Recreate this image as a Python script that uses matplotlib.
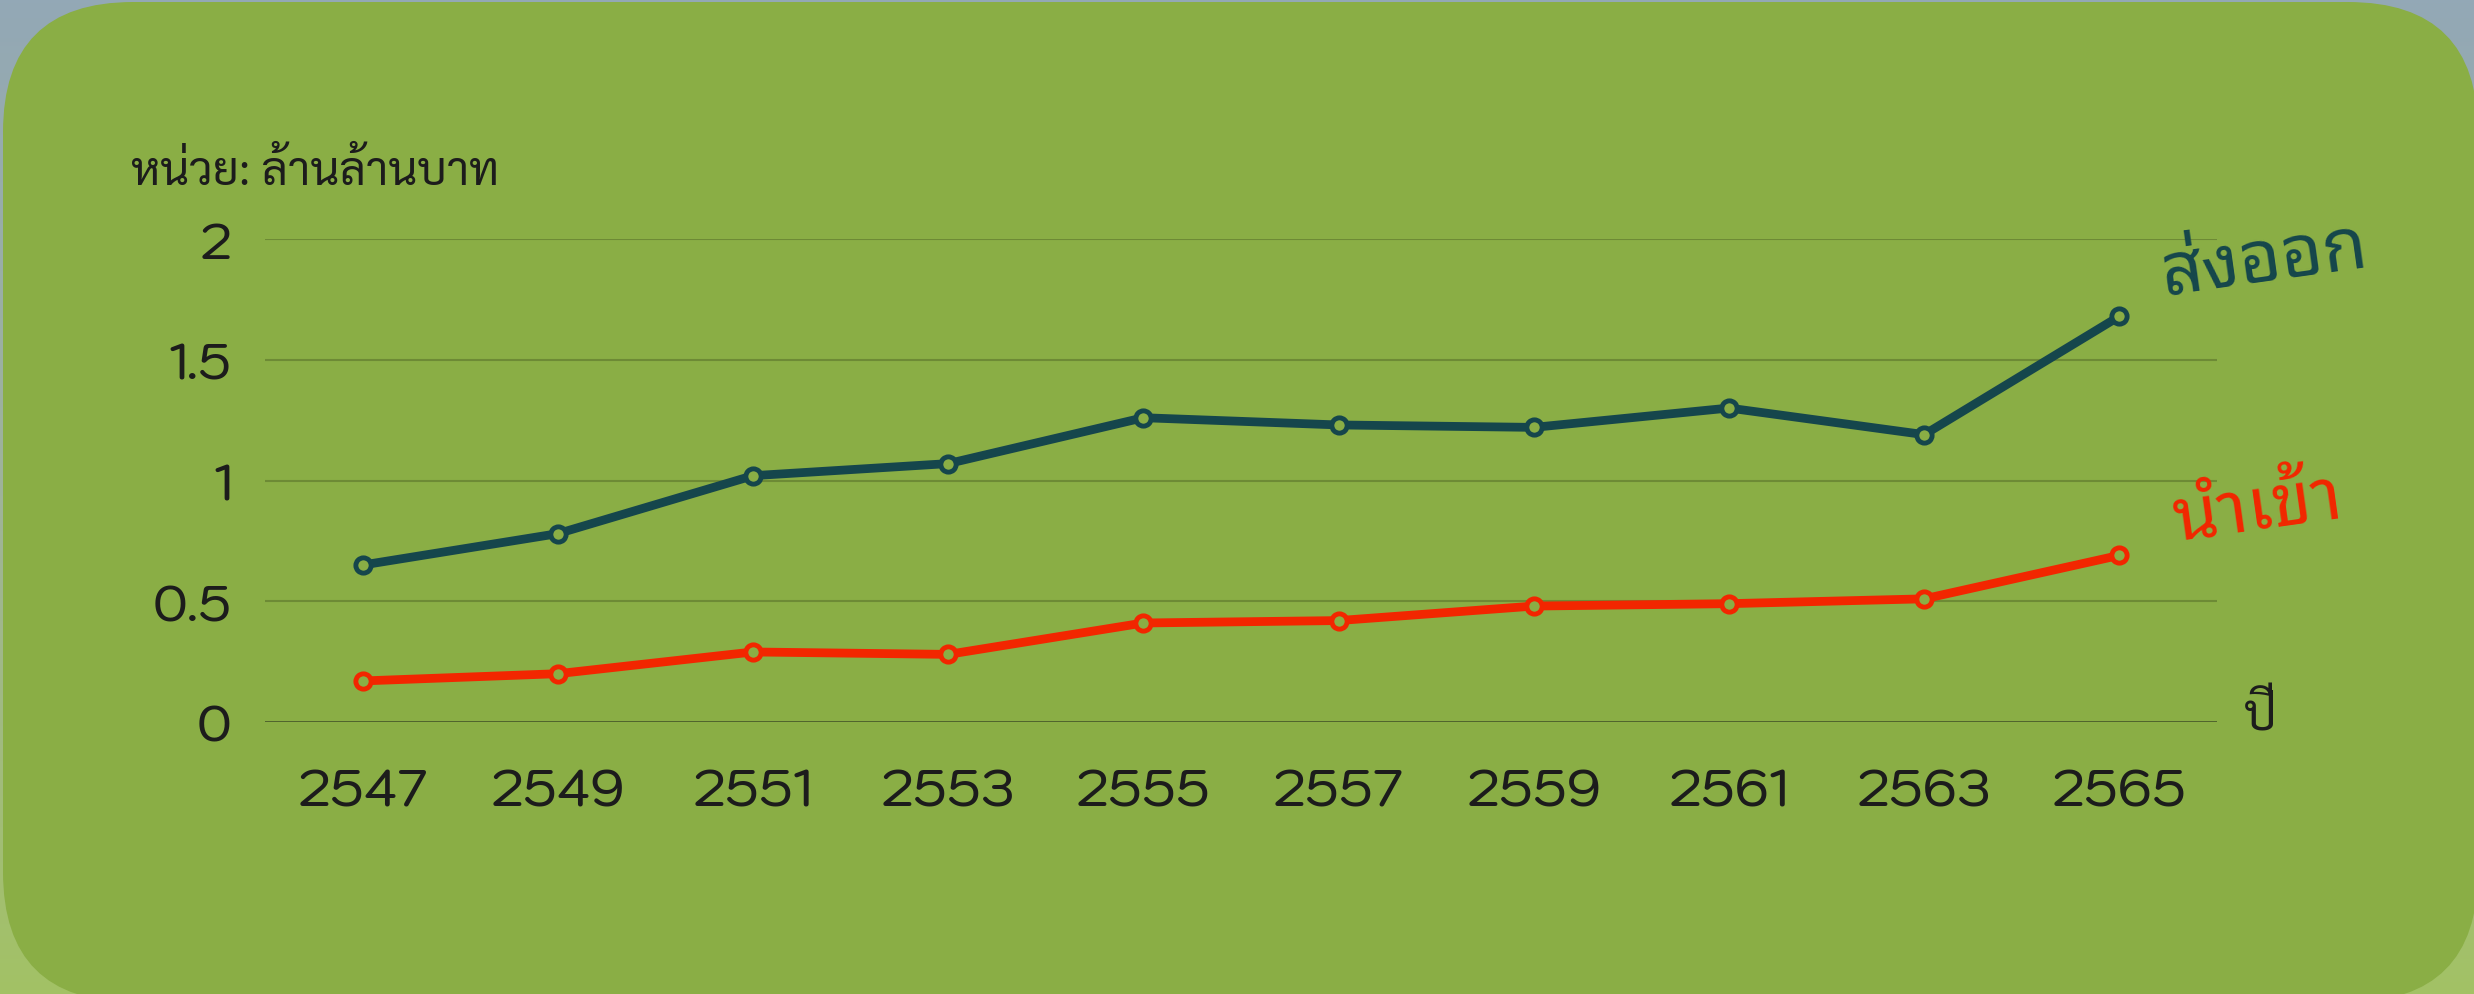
import matplotlib
matplotlib.use("Agg")
import matplotlib.pyplot as plt
import numpy as np
from matplotlib.patches import FancyBboxPatch
from matplotlib.colors import LinearSegmentedColormap

# ---- data ----
years = ["2547", "2549", "2551", "2553", "2555", "2557", "2559", "2561", "2563", "2565"]
exports = [0.65, 0.78, 1.02, 1.07, 1.26, 1.23, 1.22, 1.30, 1.19, 1.68]
imports = [0.17, 0.20, 0.29, 0.28, 0.41, 0.42, 0.48, 0.49, 0.51, 0.69]
yticks = [0, 0.5, 1, 1.5, 2]
ytick_labels = ["0", "0.5", "1", "1.5", "2"]
unit_label = "หน่วย: ล้านล้านบาท"
xlabel = "ปี"
export_label = "ส่งออก"
import_label = "นำเข้า"

W, H = 2474, 995
NUM_FONT = ["Kodchasan", "DejaVu Sans"]
THAI_FONT = ["Sarabun", "DejaVu Sans"]
LBL_FONT = ["Noto Sans Thai Looped", "DejaVu Sans"]
GREEN = "#8aae45"
EXP_C = "#15464c"
IMP_C = "#f22600"

fig = plt.figure(figsize=(W / 100, H / 100), dpi=100)

# background (photo-like gradient + rounded green panel)
bg = fig.add_axes([0, 0, 1, 1])
bg.set_xlim(0, W)
bg.set_ylim(H, 0)
bg.axis("off")
cmap = LinearSegmentedColormap.from_list("bg", ["#93a8b6", "#9fb39a", "#a3c265"])
grad = np.linspace(0, 1, 256).reshape(-1, 1)
bg.imshow(grad, cmap=cmap, extent=[0, W, H, 0], aspect="auto", zorder=0)
panel = FancyBboxPatch((3, 3), 2475, 1000, boxstyle="round,pad=0,rounding_size=130",
                       facecolor=GREEN, edgecolor="none", zorder=1)
bg.add_patch(panel)

# main axes
left, right = 265 / W, 2217 / W
bottom, top = 1 - 723 / H, 1 - 240 / H
ax = fig.add_axes([left, bottom, right - left, top - bottom])
ax.set_facecolor("none")
x = np.arange(len(years))
ax.set_xlim(-0.5, len(years) - 0.5)
ax.set_ylim(0, 2)

for s in ax.spines.values():
    s.set_visible(False)

ax.set_yticks(yticks)
ax.set_yticklabels(ytick_labels)
ax.set_xticks(x)
ax.set_xticklabels(years)
ax.tick_params(axis="y", length=0, pad=24, labelsize=36, labelcolor="#1c1c1c")
ax.tick_params(axis="x", length=0, pad=32, labelsize=37, labelcolor="#1c1c1c")
for lab in ax.get_xticklabels() + ax.get_yticklabels():
    lab.set_family(NUM_FONT)
    lab.set_weight("medium")

for yv in yticks[1:]:
    ax.axhline(yv, color="#6d8a35", lw=1.5, zorder=1)
ax.axhline(0, color="#4b5d2b", lw=2.0, zorder=1)

ax.plot(x, exports, color=EXP_C, lw=6.3, marker="o", markersize=11,
        markerfacecolor=GREEN, markeredgecolor=EXP_C, markeredgewidth=3.5,
        zorder=3, clip_on=False)
ax.plot(x, imports, color=IMP_C, lw=6.3, marker="o", markersize=11,
        markerfacecolor=GREEN, markeredgecolor=IMP_C, markeredgewidth=3.5,
        zorder=3, clip_on=False)

# texts (figure pixel coordinates)
def fx(px):
    return px / W

def fy(py):
    return 1 - py / H

fig.text(fx(131), fy(173), unit_label, ha="left", va="center", fontsize=33,
         color="#1c1c1c", family=THAI_FONT)
fig.text(fx(2265), fy(262), export_label, ha="center", va="center", fontsize=52,
         color=EXP_C, family=LBL_FONT, weight="semibold", rotation=8,
         rotation_mode="anchor")
fig.text(fx(2258), fy(510), import_label, ha="center", va="center", fontsize=52,
         color=IMP_C, family=LBL_FONT, weight="semibold", rotation=8,
         rotation_mode="anchor")
fig.text(fx(2260), fy(718), xlabel, ha="center", va="center", fontsize=36,
         color="#1c1c1c", family=THAI_FONT)

fig.savefig("out.png", dpi=100)
